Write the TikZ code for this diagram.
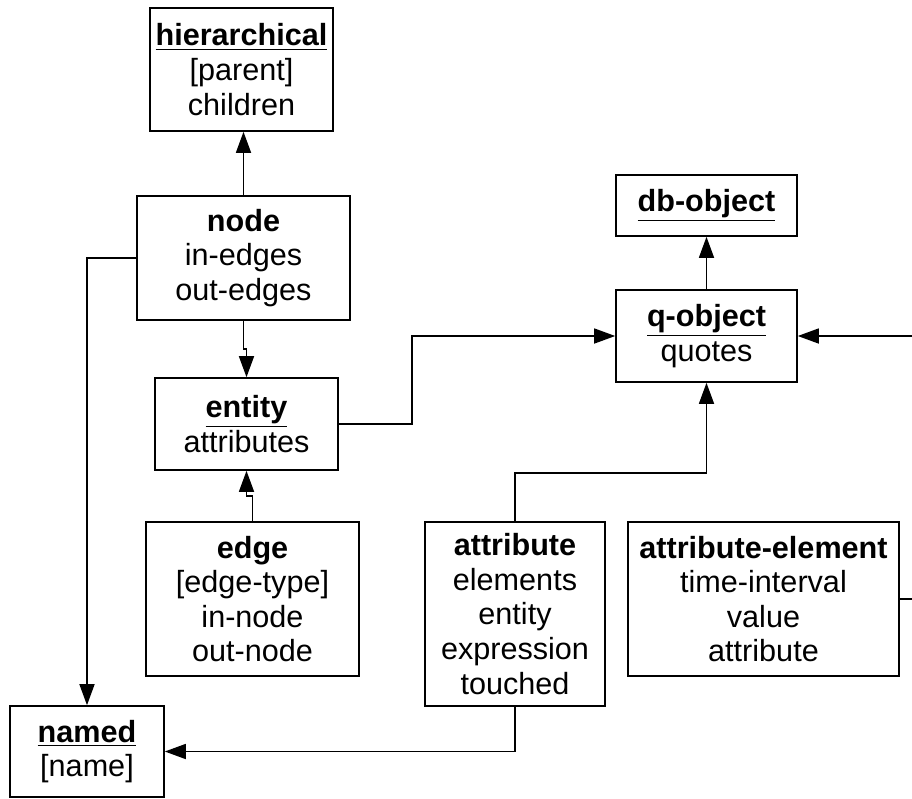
\documentclass[tikz,border=0pt]{standalone}
\usepackage{fontspec}
\setmainfont{Liberation Sans}
\usetikzlibrary{arrows.meta}
\newcommand{\cls}[1]{\textbf{\underline{#1}}}
\begin{document}
\begin{tikzpicture}[x=0.5pt,y=-0.5pt,
  classbox/.style={draw, line width=0.8pt, inner sep=0pt, align=center,
    font=\fontsize{15.3pt}{17.3pt}\selectfont},
  link/.style={line width=0.75pt, -{Triangle[length=10.5pt,width=7.5pt]}},
  plain/.style={line width=0.75pt}]
\useasboundingbox (0,0) rectangle (912,799);

% classes
\node[classbox, minimum width=183*0.5pt, minimum height=123*0.5pt] (hier) at (241.5,69.5)
  {\cls{hierarchical}\\{}{[}parent{]}\\children};
\node[classbox, minimum width=213*0.5pt, minimum height=124*0.5pt] (nd) at (243.5,258)
  {\textbf{node}\\in-edges\\out-edges};
\node[classbox, minimum width=181*0.5pt, minimum height=61*0.5pt] (db) at (706.5,205.5)
  {\cls{db-object}};
\node[classbox, minimum width=181*0.5pt, minimum height=92*0.5pt] (q) at (706.5,336)
  {\cls{q-object}\\quotes};
\node[classbox, minimum width=183*0.5pt, minimum height=92*0.5pt] (ent) at (246.5,424)
  {\cls{entity}\\attributes};
\node[classbox, minimum width=213*0.5pt, minimum height=154*0.5pt] (edg) at (252.5,599)
  {\textbf{edge}\\{}{[}edge-type{]}\\in-node\\out-node};
\node[classbox, minimum width=180*0.5pt, minimum height=184*0.5pt] (attr) at (515,614)
  {\textbf{attribute}\\elements\\entity\\expression\\touched};
\node[classbox, minimum width=271*0.5pt, minimum height=154*0.5pt] (ael) at (763.5,599)
  {\textbf{attribute-element}\\time-interval\\value\\attribute};
\node[classbox, minimum width=154*0.5pt, minimum height=91*0.5pt] (nm) at (87,751.5)
  {\cls{named}\\{}{[}name{]}};

% free ends at the right border
\coordinate (qin) at (912,336);
\coordinate (aout) at (912,599);

% connectors
\draw[link] (nd.north) -- (nd.north |- hier.south);
\draw[link] (q.north) -- (db.south);
\draw[link] (nd.south) -- ++(0,28) -| (ent.north);
\draw[link] (edg.north) -- ++(0,-25) -| (ent.south);
\draw[link] (nd.west) -| (nm.north);
\draw[link] (ent.east) -- ++(73,0) |- (q.west);
\draw[link] (attr.north) -- ++(0,-48) -| (q.south);
\draw[link] (attr.south) |- (nm.east);
\draw[link] (qin) -- (q.east);
\draw[plain] (ael.east) -- (aout);
\end{tikzpicture}
\end{document}
